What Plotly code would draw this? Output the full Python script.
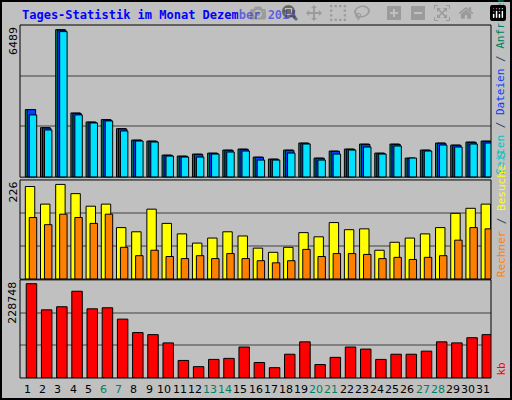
import plotly.graph_objects as go

days = list(range(1, 32))
weekend = [6, 7, 13, 14, 20, 21, 27, 28]
anfragen = [2972, 2178, 6489, 2825, 2428, 2531, 2134, 1633, 1589, 971, 927, 1015, 1059, 1192, 1236, 883,
            795, 1192, 1501, 839, 1148, 1236, 1457, 1059, 1457, 839, 1192, 1501, 1413, 1545, 1589]
dateien = [2972, 2160, 6460, 2800, 2410, 2510, 2120, 1620, 1575, 960, 915, 1000, 1045, 1180, 1220, 870,
           785, 1180, 1490, 830, 1135, 1225, 1440, 1045, 1440, 830, 1180, 1490, 1400, 1530, 1575]
seiten = [2737, 2075, 6401, 2737, 2384, 2472, 2031, 1589, 1545, 927, 883, 883, 1015, 1104, 1148, 750,
          750, 1059, 1457, 750, 1015, 1192, 1324, 1015, 1368, 839, 1148, 1413, 1324, 1457, 1501]
besuche = [221, 179, 226, 204, 174, 179, 123, 113, 167, 133, 108, 86, 98, 113, 103, 74,
           64, 76, 111, 101, 135, 118, 120, 69, 88, 98, 108, 123, 157, 169, 179]
rechner = [147, 130, 155, 147, 133, 155, 76, 56, 69, 54, 49, 56, 49, 61, 49, 44,
           39, 44, 71, 54, 61, 61, 59, 49, 52, 47, 52, 56, 93, 123, 120]
kb = [228748, 165290, 172800, 210370, 167800, 170300, 142750, 110190, 105180, 85150, 42575, 27550,
      45080, 47580, 75130, 37570, 25040, 57600, 87650, 32560, 50090, 75130, 70120, 45080, 57600,
      57600, 65110, 87650, 85150, 97670, 105180]

max1, max2, max3 = 6692, 236.6, 238000
line = dict(color="black", width=1)
fig = go.Figure()
def bar(y, color, off, w, ax):
    fig.add_trace(go.Bar(x=days, y=y, marker=dict(color=color, line=line), offset=off, width=w,
                         xaxis="x", yaxis=ax, showlegend=False, hoverinfo="skip"))
bar(anfragen, "#00805C", -0.15, 0.62, "y")
bar(dateien, "#0040FF", -0.02, 0.55, "y")
bar(seiten, "#00E0FF", 0.11, 0.49, "y")
bar(besuche, "#FFFF00", -0.15, 0.62, "y2")
bar(rechner, "#FF8000", 0.11, 0.49, "y2")
bar(kb, "#FF0000", -0.09, 0.69, "y3")

def yax(dom, mx):
    return dict(domain=dom, range=[0, mx], tickvals=[mx / 3, 2 * mx / 3], showticklabels=False,
                gridcolor="#808080", gridwidth=1.5, zeroline=False, fixedrange=True)

fig.update_layout(
    width=512, height=400, barmode="overlay",
    margin=dict(l=20, r=21, t=25, b=22),
    paper_bgcolor="#C0C0C0", plot_bgcolor="#C0C0C0",
    xaxis=dict(range=[0.5, 31.5], showticklabels=False, showgrid=False, zeroline=False, anchor="y3"),
    yaxis=yax([0.569, 1], max1), yaxis2=yax([0.28, 0.561], max2), yaxis3=yax([0, 0.278], max3),
    font=dict(family="DejaVu Sans Mono", size=11),
)
shapes = [dict(type="rect", xref="paper", yref="paper", x0=-19/471, x1=1 + 20/471, y0=-21/353, y1=1 + 24/353,
               line=dict(color="black", width=2))]
for d0, d1 in [(0.569, 1), (0.28, 0.561), (0, 0.278)]:
    shapes.append(dict(type="rect", xref="paper", yref="paper", x0=0, x1=1, y0=d0, y1=d1,
                       line=dict(color="black", width=1)))
fig.update_layout(shapes=shapes)

ann = [dict(text="<b>Tages-Statistik im Monat Dezember 2014</b>", x=0, y=1 + 10/353, xref="paper", yref="paper",
            xanchor="left", yanchor="middle", showarrow=False, font=dict(color="#0000FF", size=12))]
for t, yy in [("6489", 1), ("226", 0.561), ("228748", 0.278)]:
    ann.append(dict(text=t, textangle=-90, x=-7/471, y=yy, xref="paper", yref="paper", xanchor="center",
                    yanchor="top", showarrow=False, font=dict(color="black", size=11, family="DejaVu Sans")))
ann.append(dict(text="<span style='color:#00C0C0'>Seiten</span> / <span style='color:#0040FF'>Dateien</span> / <span style='color:#00805C'>Anfragen</span>",
                textangle=-90, x=1 + 10/471, y=0.569, xref="paper", yref="paper", xanchor="center", yanchor="bottom",
                showarrow=False, font=dict(size=11)))
ann.append(dict(text="<span style='color:#FF8000'>Rechner</span> / <span style='color:#FFFF00'>Besuche</span> <span style='color:#00C0C0'>S</span>",
                textangle=-90, x=1 + 10/471, y=0.28, xref="paper", yref="paper", xanchor="center", yanchor="bottom",
                showarrow=False, font=dict(size=11)))
ann.append(dict(text="<span style='color:#FF0000'>kb</span>", textangle=-90, x=1 + 10/471, y=0, xref="paper",
                yref="paper", xanchor="center", yanchor="bottom", showarrow=False, font=dict(size=11)))
for d in days:
    ann.append(dict(text=str(d), x=d, y=-11/353, xref="x", yref="paper", showarrow=False, yanchor="middle",
                    font=dict(size=11, family="DejaVu Sans", color="#008060" if d in weekend else "black")))
fig.update_layout(annotations=ann)
fig.write_html("out.html", post_script="document.body.style.margin='0';document.body.style.overflow='hidden';")
